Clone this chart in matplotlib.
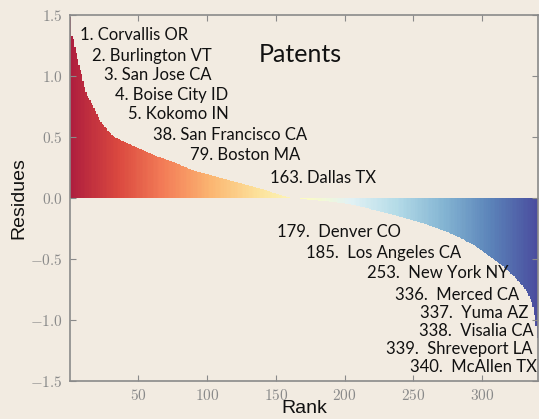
import matplotlib
matplotlib.use("Agg")
import matplotlib.pyplot as plt
import numpy as np
from matplotlib.ticker import FuncFormatter

plt.rcParams['mathtext.fontset'] = 'cm'

# ---- data ----
residues = [
    1.48, 1.33, 1.30, 1.24, 1.19, 1.14, 1.09, 1.05, 1.02, 0.96,
    0.91, 0.87, 0.84, 0.82, 0.80, 0.78, 0.76, 0.74, 0.71, 0.69,
    0.66, 0.64, 0.62, 0.61, 0.60, 0.58, 0.57, 0.55, 0.54, 0.53,
    0.52, 0.51, 0.50, 0.49, 0.49, 0.48, 0.475, 0.47, 0.465, 0.46,
    0.455, 0.45, 0.445, 0.44, 0.435, 0.43, 0.425, 0.42, 0.415, 0.41,
    0.405, 0.40, 0.395, 0.39, 0.385, 0.38, 0.375, 0.37, 0.365, 0.36,
    0.355, 0.35, 0.345, 0.34, 0.336, 0.332, 0.328, 0.324, 0.32, 0.316,
    0.312, 0.308, 0.304, 0.30, 0.296, 0.292, 0.288, 0.284, 0.28, 0.276,
    0.271, 0.266, 0.261, 0.256, 0.251, 0.246, 0.241, 0.236, 0.231, 0.226,
    0.223, 0.220, 0.217, 0.214, 0.211, 0.208, 0.205, 0.202, 0.199, 0.196,
    0.193, 0.190, 0.187, 0.184, 0.181, 0.178, 0.175, 0.172, 0.168, 0.165,
    0.162, 0.159, 0.156, 0.152, 0.149, 0.146, 0.143, 0.140, 0.137, 0.134,
    0.131, 0.128, 0.125, 0.122, 0.119, 0.116, 0.113, 0.110, 0.107, 0.104,
    0.101, 0.098, 0.095, 0.092, 0.089, 0.086, 0.083, 0.080, 0.077, 0.074,
    0.071, 0.068, 0.065, 0.061, 0.057, 0.053, 0.049, 0.045, 0.041, 0.037,
    0.033, 0.029, 0.025, 0.022, 0.019, 0.016, 0.013, 0.010, 0.008, 0.006,
    0.004, 0.003, 0.002, 0.001, -0.001, -0.002, -0.004, -0.006, -0.008, -0.010,
    -0.011, -0.012, -0.013, -0.014, -0.015, -0.016, -0.017, -0.018, -0.019, -0.020,
    -0.021, -0.022, -0.023, -0.024, -0.025, -0.026, -0.027, -0.028, -0.029, -0.030,
    -0.032, -0.033, -0.035, -0.036, -0.038, -0.039, -0.041, -0.042, -0.044, -0.045,
    -0.047, -0.049, -0.051, -0.053, -0.055, -0.057, -0.059, -0.061, -0.063, -0.065,
    -0.068, -0.071, -0.074, -0.077, -0.080, -0.083, -0.086, -0.089, -0.092, -0.095,
    -0.098, -0.101, -0.104, -0.106, -0.109, -0.112, -0.115, -0.118, -0.120, -0.123,
    -0.126, -0.129, -0.132, -0.134, -0.137, -0.140, -0.143, -0.146, -0.150, -0.153,
    -0.156, -0.159, -0.162, -0.165, -0.169, -0.172, -0.175, -0.178, -0.181, -0.185,
    -0.188, -0.191, -0.194, -0.198, -0.201, -0.205, -0.208, -0.212, -0.215, -0.219,
    -0.223, -0.227, -0.231, -0.235, -0.239, -0.243, -0.247, -0.251, -0.255, -0.259,
    -0.263, -0.267, -0.271, -0.276, -0.281, -0.286, -0.291, -0.296, -0.301, -0.306,
    -0.311, -0.316, -0.321, -0.327, -0.333, -0.339, -0.345, -0.351, -0.357, -0.363,
    -0.369, -0.375, -0.381, -0.388, -0.395, -0.402, -0.409, -0.416, -0.424, -0.432,
    -0.440, -0.448, -0.456, -0.464, -0.472, -0.480, -0.489, -0.498, -0.507, -0.516,
    -0.525, -0.534, -0.543, -0.552, -0.561, -0.570, -0.580, -0.590, -0.600, -0.610,
    -0.620, -0.631, -0.642, -0.653, -0.665, -0.677, -0.690, -0.703, -0.717, -0.731,
    -0.746, -0.762, -0.780, -0.800, -0.825, -0.855, -0.895, -0.960, -1.05, -1.15,
]
ranks = list(range(1, len(residues) + 1))

city_labels = [
    "1. Corvallis OR", "2. Burlington VT", "3. San Jose CA", "4. Boise City ID",
    "5. Kokomo IN", "38. San Francisco CA", "79. Boston MA", "163. Dallas TX",
    "179.  Denver CO", "185.  Los Angeles CA", "253.  New York NY",
    "336.  Merced CA", "337.  Yuma AZ", "338.  Visalia CA",
    "339.  Shreveport LA", "340.  McAllen TX",
]
# label anchor positions in pixels (left x, center y from top)
label_px = [
    (80, 35), (92, 56), (104, 75), (115, 95), (128, 114), (153, 135),
    (190, 155), (270, 178), (277, 232), (306, 253), (367, 273),
    (395, 295), (420, 313), (419, 331), (386, 349), (410, 367),
]

xticks = [50, 100, 150, 200, 250, 300]
yticks = [-1.5, -1.0, -0.5, 0.0, 0.5, 1.0, 1.5]

W, H = 539, 419
bg = "#f2ebe1"
fig = plt.figure(figsize=(W / 100, H / 100), dpi=100, facecolor=bg)
ax = fig.add_axes([70 / W, (H - 381) / H, (538 - 70) / W, (381 - 15) / H])
ax.set_facecolor(bg)

cmap = plt.get_cmap("RdYlBu")
n = len(residues)
colors = [cmap(i / (n - 1)) for i in range(n)]
ax.bar(ranks, residues, width=1.0, color=colors, linewidth=0,
       alpha=0.87, antialiased=False)

ax.set_xlim(0.5, n + 0.5)
ax.set_ylim(-1.5, 1.5)
ax.set_xticks(xticks)
ax.set_yticks(yticks)
ax.xaxis.set_major_formatter(FuncFormatter(lambda v, p: r"$%d$" % v))
ax.yaxis.set_major_formatter(FuncFormatter(lambda v, p: r"$%.1f$" % v))
ax.tick_params(direction="in", top=True, right=True, length=4, width=0.8,
               color="#8a8a8a", labelcolor="#8a8a8a", labelsize=11, pad=5)
for s in ax.spines.values():
    s.set_color("#8a8a8a")
    s.set_linewidth(1.2)

ax.set_ylabel("Residues", family="Liberation Sans", fontsize=14, color="#111111", labelpad=2)
ax.set_xlabel("Rank", family="Liberation Sans", fontsize=14, color="#111111", labelpad=-2)

for lab, (px, py) in zip(city_labels, label_px):
    fig.text(px / W, 1 - py / H, lab, ha="left", va="center",
             family="Lato", fontsize=12, color="#111111")

fig.text(259 / W, 1 - 55 / H, "Patents", ha="left", va="center",
         family="Lato", fontsize=18, color="#111111")

fig.savefig("out.png", dpi=100, facecolor=bg)
